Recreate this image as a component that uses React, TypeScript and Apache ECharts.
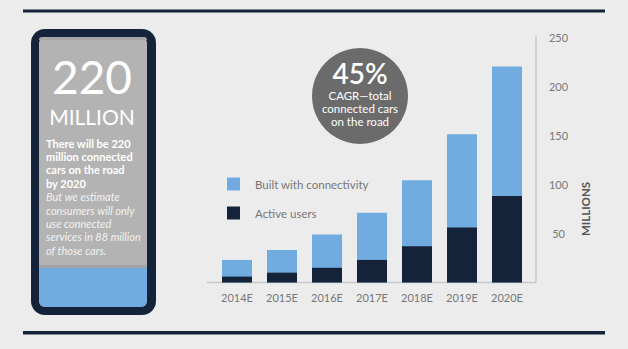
import React, { useEffect, useRef } from 'react';
import * as echarts from 'echarts';

const categories = ['2014E', '2015E', '2016E', '2017E', '2018E', '2019E', '2020E'];
const builtWithConnectivity = [23, 33, 49, 71, 104, 151, 220];
const activeUsers = [6, 10, 15, 23, 37, 56, 88];
const legendNames = ['Built with connectivity', 'Active users'];
const cardHeadline = '220';
const cardUnit = 'MILLION';
const cardBoldLines = ['There will be 220', 'million connected', 'cars on the road', 'by 2020'];
const cardItalicLines = ['But we estimate', 'consumers will only', 'use connected', 'services in 88 million', 'of those cars.'];
const bubbleHeadline = '45%';
const bubbleLines = ['CAGR\u2014total', 'connected cars', 'on the road'];
const axisTitle = 'MILLIONS';

const NAVY = '#14233a';
const BLUE = '#70ace0';
const FONT = 'Lato, "Noto Sans", sans-serif';

export default function App() {
  const ref = useRef<HTMLDivElement>(null);
  useEffect(() => {
    if (!ref.current) return;
    const chart = echarts.init(ref.current, undefined, { renderer: 'svg' });
    const cardLines: any[] = [];
    cardBoldLines.forEach((t, i) => {
      cardLines.push({
        type: 'text', x: 46, y: 143 + i * 13.4,
        style: { text: t, fill: '#ffffff', font: `bold 11px ${FONT}`, textAlign: 'left', textVerticalAlign: 'middle' },
      });
    });
    cardItalicLines.forEach((t, i) => {
      cardLines.push({
        type: 'text', x: 46, y: 143 + (cardBoldLines.length + i) * 13.4,
        style: { text: t, fill: '#f2f2f2', font: `italic 11px ${FONT}`, textAlign: 'left', textVerticalAlign: 'middle' },
      });
    });
    const bubbleTexts = bubbleLines.map((t, i) => ({
      type: 'text', x: 360, y: 95 + i * 13.2,
      style: { text: t, fill: '#ffffff', font: `11.5px ${FONT}`, textAlign: 'center', textVerticalAlign: 'middle', lineHeight: 13 },
    }));
    chart.setOption({
      animation: false,
      backgroundColor: '#ececec',
      textStyle: { fontFamily: FONT },
      grid: { left: 214.5, right: 98.5, top: 37, bottom: 66.5 },
      legend: {
        data: legendNames,
        orient: 'vertical',
        left: 222,
        top: 172.5,
        itemWidth: 13,
        itemHeight: 13,
        itemGap: 16,
        icon: 'rect',
        selectedMode: false,
        textStyle: { color: '#777777', fontSize: 11.5, fontFamily: FONT, padding: [0, 0, 0, 10] },
      },
      xAxis: {
        type: 'category',
        data: categories,
        axisLine: { show: false },
        axisTick: { show: false },
        axisLabel: { color: '#777777', fontSize: 11, margin: 9, fontFamily: FONT },
      },
      yAxis: {
        type: 'value',
        position: 'right',
        offset: 6,
        min: 0,
        max: 250,
        interval: 50,
        axisLine: { show: true, lineStyle: { color: '#c8c8c8', width: 1.5 } },
        axisTick: { show: false },
        splitLine: { show: false },
        axisLabel: {
          color: '#777777', fontSize: 11, margin: 23, align: 'center', fontFamily: FONT,
          formatter: (v: number) => (v === 0 ? '' : String(v)),
        },
      },
      series: [
        {
          name: legendNames[0], type: 'bar', data: builtWithConnectivity, barWidth: 30,
          itemStyle: { color: BLUE },
        },
        {
          name: legendNames[1], type: 'bar', data: activeUsers, barWidth: 30, barGap: '-100%',
          itemStyle: { color: NAVY },
        },
      ],
      graphic: [
        { type: 'rect', shape: { x: 23, y: 9.5, width: 582, height: 3 }, style: { fill: NAVY } },
        { type: 'rect', shape: { x: 23, y: 331, width: 582, height: 3.5 }, style: { fill: NAVY } },
        { type: 'line', shape: { x1: 207, y1: 282.5, x2: 536, y2: 282.5 }, style: { stroke: '#c8c8c8', lineWidth: 1.5 } },
        { type: 'rect', shape: { x: 31, y: 29, width: 125, height: 286, r: 14 }, style: { fill: NAVY } },
        { type: 'rect', shape: { x: 39, y: 37, width: 108, height: 270, r: 6 }, style: { fill: '#b3b3b3' } },
        { type: 'rect', shape: { x: 39, y: 37, width: 108, height: 3, r: [6, 6, 0, 0] }, style: { fill: '#a6a6a6' } },
        { type: 'rect', shape: { x: 39, y: 265, width: 108, height: 3 }, style: { fill: '#a3a3a3' } },
        { type: 'rect', shape: { x: 39, y: 268, width: 108, height: 39, r: [0, 0, 6, 6] }, style: { fill: BLUE } },
        {
          type: 'text', x: 92, y: 76,
          style: { text: cardHeadline, fill: '#ffffff', font: `46px ${FONT}`, textAlign: 'center', textVerticalAlign: 'middle' },
        },
        {
          type: 'text', x: 92, y: 116,
          style: { text: cardUnit, fill: '#ffffff', font: `21px ${FONT}`, textAlign: 'center', textVerticalAlign: 'middle' },
        },
        ...cardLines,
        { type: 'circle', shape: { cx: 360, cy: 96, r: 48 }, style: { fill: '#6b6b6b' } },
        {
          type: 'text', x: 360, y: 73,
          style: { text: bubbleHeadline, fill: '#ffffff', font: `600 28px ${FONT}`, textAlign: 'center', textVerticalAlign: 'middle', lineHeight: 24 },
        },
        ...bubbleTexts,
        {
          type: 'text', x: 585, y: 209, rotation: Math.PI / 2,
          style: { text: axisTitle, fill: '#555555', font: `bold 11.5px ${FONT}`, textAlign: 'center', textVerticalAlign: 'middle' },
        },
      ],
    });
    return () => chart.dispose();
  }, []);
  return <div ref={ref} style={{ position: 'absolute', left: 0, top: 0, width: 628, height: 349 }} />;
}
